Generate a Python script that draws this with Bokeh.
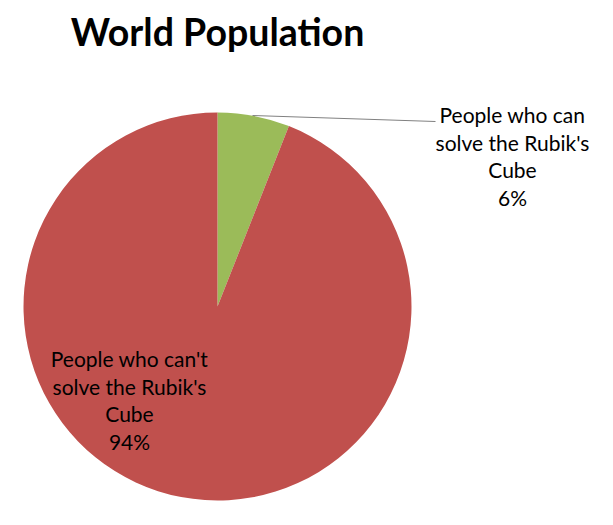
import math
from bokeh.plotting import figure
from bokeh.models import Range1d
from bokeh.core.properties import value
from bokeh.embed import file_html
from bokeh.resources import INLINE

categories = ["People who can solve the Rubik's Cube", "People who can't solve the Rubik's Cube"]
shares = [6, 94]
colors = ["#9BBB59", "#C0504D"]

W, H = 597, 509
p = figure(width=W, height=H, output_backend="svg", toolbar_location=None,
           x_range=Range1d(0, W), y_range=Range1d(525 - H, 525),
           min_border=0, outline_line_color=None)
p.axis.visible = False
p.grid.visible = False
p.background_fill_color = "white"
p.border_fill_color = "white"

cx, cy, r = 217, 525 - 306, 194
total = sum(shares)
start = math.pi / 2
for s, c in zip(shares, colors):
    ang = s / total * 2 * math.pi
    p.wedge(x=[cx], y=[cy], radius=r, start_angle=[start - ang], end_angle=[start],
            fill_color=c, line_color=None)
    start -= ang

font = value("Lato")
# Title
p.text(x=[217], y=[525 - 31], text=["World Population"], text_font=font,
       text_font_style="bold", text_font_size="37.5px", text_align="center",
       text_baseline="middle", text_color="black")

# leader line
p.line(x=[252, 435], y=[525 - 115, 525 - 121], line_color="#808080", line_width=1)

def label(x, y0, lines):
    for i, t in enumerate(lines):
        p.text(x=[x], y=[525 - (y0 + i * 27.5)], text=[t], text_font=font,
               text_font_size="21px", text_align="center", text_baseline="middle",
               text_color="black")

lab0 = categories[0].replace("can solve", "can\nsolve").replace("Rubik's Cube", "Rubik's\nCube").split("\n")
lab1 = categories[1].replace("can't solve", "can't\nsolve").replace("Rubik's Cube", "Rubik's\nCube").split("\n")
label(512, 114, lab0 + [f"{shares[0]}%"])
label(129, 358, lab1 + [f"{shares[1]}%"])

open("out.html", "w").write(file_html(p, INLINE))
